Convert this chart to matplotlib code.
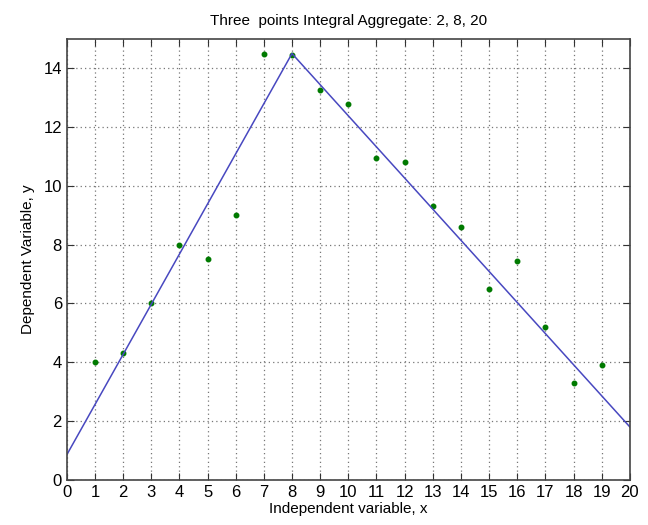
import numpy as np
from matplotlib import pyplot as plt

# Data
x_points = [1, 2, 3, 4, 5, 6, 7, 8, 9, 10, 11, 12, 13, 14, 15, 16, 17, 18, 19]
y_points = [4.0, 4.3, 6.0, 8.0, 7.5, 9.0, 14.5, 14.45, 13.25, 12.8, 10.95, 10.8,
            9.3, 8.6, 6.5, 7.45, 5.2, 3.3, 3.9]
x_fit = [0, 8, 20]
y_fit = [0.85, 14.5, 1.8]

plt.rcParams['font.family'] = ['Liberation Sans Narrow', 'Liberation Sans', 'DejaVu Sans']

fig = plt.figure(figsize=(6.48, 5.25), dpi=100)
ax = fig.add_axes([0.103, 0.086, 0.869, 0.840])

ax.plot(x_points, y_points, '.', color='#007a00', markersize=6.5)
ax.plot(x_fit, y_fit, '-', color='#4848c0', linewidth=1.1)

ax.set_xlim(0, 20)
ax.set_ylim(0, 15)
ax.set_xticks(np.arange(0, 21, 1))
ax.set_yticks(np.arange(0, 15, 2))
ax.grid(color='#777777', linestyle=(0, (1, 2.5)), linewidth=0.9)
ax.tick_params(which='major', direction='in', left=True, right=True, bottom=True, top=True,
               length=5, labelsize=12, color='#333333')
for s in ax.spines.values():
    s.set_color('#444444')
    s.set_linewidth(1.2)

ax.set_title('Three  points Integral Aggregate: 2, 8, 20', fontsize=11, pad=10)
ax.set_xlabel('Independent variable, x', fontsize=11, labelpad=2)
ax.set_ylabel('Dependent Variable, y', fontsize=11, labelpad=6)

fig.savefig('out.png', dpi=100)
